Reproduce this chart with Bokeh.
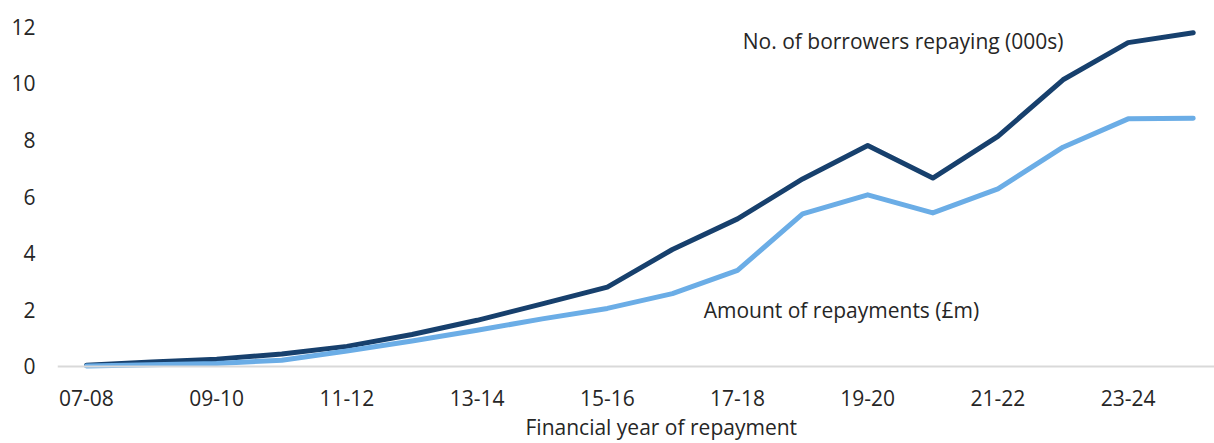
from bokeh.plotting import figure
from bokeh.models import Range1d, Span, Label, FixedTicker, ColumnDataSource, Title
from bokeh.embed import file_html
from bokeh.resources import INLINE

years = ["07-08", "08-09", "09-10", "10-11", "11-12", "12-13", "13-14", "14-15", "15-16",
         "16-17", "17-18", "18-19", "19-20", "20-21", "21-22", "22-23", "23-24", "24-25"]
borrowers = [0.04, 0.16, 0.26, 0.44, 0.71, 1.13, 1.63, 2.21, 2.80,
             4.13, 5.21, 6.62, 7.80, 6.65, 8.12, 10.12, 11.43, 11.78]
amount = [0.02, 0.06, 0.11, 0.22, 0.55, 0.90, 1.28, 1.68, 2.05,
          2.57, 3.39, 5.39, 6.06, 5.42, 6.27, 7.74, 8.74, 8.76]
y_ticks = [0, 2, 4, 6, 8, 10, 12]
x_tick_idx = list(range(0, len(years), 2))

FONT = "Open Sans"
FS = "21px"
TXT = "#262626"
DARK = "#17406D"
LIGHT = "#6BADE6"

idx = list(range(len(years)))
src = ColumnDataSource(dict(x=idx, b=borrowers, a=amount))

p = figure(width=1214, height=443, output_backend="svg", toolbar_location=None,
           x_range=Range1d(-0.4455, 17.327), y_range=Range1d(-0.2118, 12.2118),
           min_border_left=57, min_border_right=0, min_border_top=20, min_border_bottom=71)
p.outline_line_color = None
p.xgrid.grid_line_color = None
p.ygrid.grid_line_color = None

# baseline at zero
p.add_layout(Span(location=0, dimension="width", line_color="#D9D9D9", line_width=2))

p.line("x", "b", source=src, line_color=DARK, line_width=5, line_cap="round", line_join="round")
p.line("x", "a", source=src, line_color=LIGHT, line_width=5, line_cap="round", line_join="round")

# axes
p.xaxis.ticker = FixedTicker(ticks=x_tick_idx)
p.xaxis.major_label_overrides = {i: years[i] for i in x_tick_idx}
p.xaxis.axis_line_color = None
p.xaxis.major_tick_line_color = None
p.xaxis.minor_tick_line_color = None
p.xaxis.major_label_standoff = 11
p.xaxis.major_label_text_font = FONT
p.xaxis.major_label_text_font_size = FS
p.xaxis.major_label_text_color = TXT

p.yaxis.ticker = FixedTicker(ticks=y_ticks)
p.yaxis.axis_line_color = None
p.yaxis.major_tick_line_color = None
p.yaxis.minor_tick_line_color = None
p.yaxis.major_label_standoff = 16
p.yaxis.major_label_text_font = FONT
p.yaxis.major_label_text_font_size = FS
p.yaxis.major_label_text_color = TXT

# series labels
p.add_layout(Label(x=10.08, y=11.5, text="No. of borrowers repaying (000s)",
                   text_font=FONT, text_font_size=FS, text_color=TXT,
                   text_align="left", text_baseline="middle"))
p.add_layout(Label(x=9.48, y=2.01, text="Amount of repayments (£m)",
                   text_font=FONT, text_font_size=FS, text_color=TXT,
                   text_align="left", text_baseline="middle"))
# axis title
p.add_layout(Title(text="Financial year of repayment", align="left", offset=468,
                   text_font=FONT, text_font_size=FS, text_font_style="normal",
                   text_color=TXT, standoff=4), "below")

open("out.html", "w").write(file_html(p, INLINE))
